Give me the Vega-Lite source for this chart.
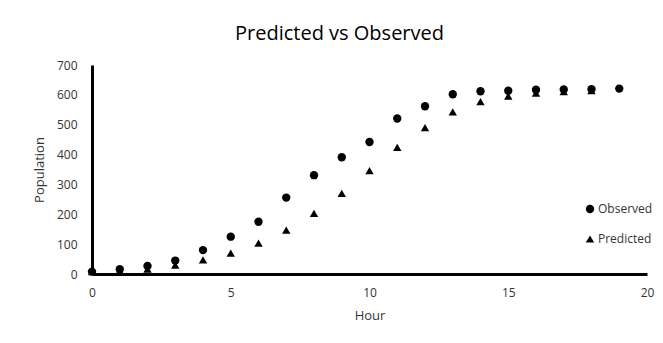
{
  "$schema": "https://vega.github.io/schema/vega-lite/v6.json",
  "width": 555,
  "height": 209,
  "autosize": {"type": "none"},
  "padding": {"left": 92, "top": 65, "right": 16, "bottom": 69},
  "background": "white",
  "title": {"text": "Predicted vs Observed", "fontSize": 20, "font": "Open Sans", "fontWeight": "normal", "color": "#000", "anchor": "middle", "dx": -30, "offset": 15},
  "config": {"view": {"stroke": null}, "font": "Open Sans"},
  "data": {"values": [
    {"Hour": 0, "Population": 8, "Series": "Observed"},
    {"Hour": 1, "Population": 16, "Series": "Observed"},
    {"Hour": 2, "Population": 27, "Series": "Observed"},
    {"Hour": 3, "Population": 45, "Series": "Observed"},
    {"Hour": 4, "Population": 80, "Series": "Observed"},
    {"Hour": 5, "Population": 125, "Series": "Observed"},
    {"Hour": 6, "Population": 175, "Series": "Observed"},
    {"Hour": 7, "Population": 256, "Series": "Observed"},
    {"Hour": 8, "Population": 331, "Series": "Observed"},
    {"Hour": 9, "Population": 391, "Series": "Observed"},
    {"Hour": 10, "Population": 442, "Series": "Observed"},
    {"Hour": 11, "Population": 521, "Series": "Observed"},
    {"Hour": 12, "Population": 562, "Series": "Observed"},
    {"Hour": 13, "Population": 602, "Series": "Observed"},
    {"Hour": 14, "Population": 612, "Series": "Observed"},
    {"Hour": 15, "Population": 614, "Series": "Observed"},
    {"Hour": 16, "Population": 617, "Series": "Observed"},
    {"Hour": 17, "Population": 618, "Series": "Observed"},
    {"Hour": 18, "Population": 619, "Series": "Observed"},
    {"Hour": 19, "Population": 621, "Series": "Observed"},
    {"Hour": 0, "Population": 8, "Series": "Predicted"},
    {"Hour": 1, "Population": 11, "Series": "Predicted"},
    {"Hour": 2, "Population": 16, "Series": "Predicted"},
    {"Hour": 3, "Population": 30, "Series": "Predicted"},
    {"Hour": 4, "Population": 47, "Series": "Predicted"},
    {"Hour": 5, "Population": 70, "Series": "Predicted"},
    {"Hour": 6, "Population": 103, "Series": "Predicted"},
    {"Hour": 7, "Population": 147, "Series": "Predicted"},
    {"Hour": 8, "Population": 203, "Series": "Predicted"},
    {"Hour": 9, "Population": 270, "Series": "Predicted"},
    {"Hour": 10, "Population": 346, "Series": "Predicted"},
    {"Hour": 11, "Population": 424, "Series": "Predicted"},
    {"Hour": 12, "Population": 490, "Series": "Predicted"},
    {"Hour": 13, "Population": 543, "Series": "Predicted"},
    {"Hour": 14, "Population": 577, "Series": "Predicted"},
    {"Hour": 15, "Population": 596, "Series": "Predicted"},
    {"Hour": 16, "Population": 606, "Series": "Predicted"},
    {"Hour": 17, "Population": 611, "Series": "Predicted"},
    {"Hour": 18, "Population": 614, "Series": "Predicted"}
  ]},
  "mark": {"type": "point", "filled": true, "opacity": 1, "size": 70},
  "encoding": {
    "x": {"field": "Hour", "type": "quantitative", "scale": {"domain": [0, 20]},
      "axis": {"values": [0, 5, 10, 15, 20], "grid": false, "ticks": false, "labelFlush": false, "domainColor": "#000", "domainWidth": 3, "labelFontSize": 12, "labelColor": "#333", "labelPadding": 13, "title": "Hour", "titleFontSize": 13, "titleFontWeight": "normal", "titleColor": "#333", "titlePadding": 11}},
    "y": {"field": "Population", "type": "quantitative", "scale": {"domain": [0, 700]},
      "axis": {"values": [0, 100, 200, 300, 400, 500, 600, 700], "grid": false, "ticks": false, "labelFlush": false, "domainColor": "#000", "domainWidth": 3, "labelFontSize": 12, "labelColor": "#333", "labelPadding": 15, "title": "Population", "titleFontSize": 13, "titleFontWeight": "normal", "titleColor": "#333", "titlePadding": 10}},
    "shape": {"field": "Series", "type": "nominal", "scale": {"domain": ["Observed", "Predicted"], "range": ["circle", "triangle-up"]},
      "legend": {"title": null, "orient": "none", "legendX": 492, "legendY": 138, "labelFontSize": 12, "labelColor": "#333", "symbolFillColor": "#000", "symbolStrokeColor": "#000", "symbolSize": 70, "rowPadding": 15, "labelOffset": 2}},
    "color": {"value": "#000"}
  }
}
